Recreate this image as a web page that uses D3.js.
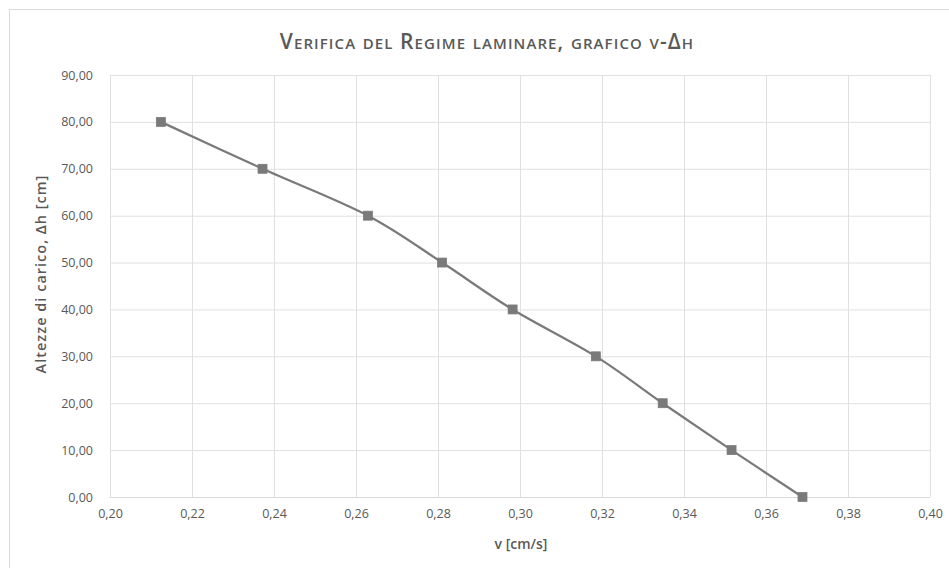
<!DOCTYPE html>
<html>
<head>
<meta charset="utf-8">
<script src="https://cdn.jsdelivr.net/npm/d3@7"></script>
<style>
  html, body { margin: 0; padding: 0; background: #fff; }
  svg text { font-family: "Open Sans", "DejaVu Sans", sans-serif; }
</style>
</head>
<body>
<svg id="chart" width="949" height="568"></svg>
<script>
// Velocità misurate [cm/s] e relative altezze di carico [cm]
const velocity = [0.2124, 0.2372, 0.2629, 0.2810, 0.2982, 0.3185, 0.3348, 0.3516, 0.3689];
const head = [80, 70, 60, 50, 40, 30, 20, 10, 0];
const xTicks = [0.20, 0.22, 0.24, 0.26, 0.28, 0.30, 0.32, 0.34, 0.36, 0.38, 0.40];
const yTicks = [0, 10, 20, 30, 40, 50, 60, 70, 80, 90];
const titleText = "Verifica del Regime laminare, grafico v-Δh";
const xTitle = "v [cm/s]";
const yTitle = "Altezze di carico, Δh [cm]";

const svg = d3.select("#chart");
const W = 949, H = 568;
const plot = { left: 110, right: 930, top: 75, bottom: 497 };

// chart frame (only top/left edges fall inside the view)
svg.append("rect")
  .attr("x", 9.5).attr("y", 9.5)
  .attr("width", W + 20).attr("height", H + 20)
  .attr("fill", "#fff").attr("stroke", "#d9d9d9").attr("stroke-width", 1);

const x = d3.scaleLinear().domain([0.20, 0.40]).range([plot.left, plot.right]);
const y = d3.scaleLinear().domain([0, 90]).range([plot.bottom, plot.top]);

const fmt = d => d3.format(".2f")(d).replace(".", ",");

// vertical grid + x labels
const xAxis = d3.axisBottom(x).tickValues(xTicks).tickSize(-(plot.bottom - plot.top)).tickFormat(fmt).tickPadding(12);
const gx = svg.append("g").attr("transform", `translate(0,${plot.bottom})`).call(xAxis);
gx.select(".domain").remove();
gx.selectAll(".tick line").attr("stroke", "#e0e0e0").attr("stroke-width", 1);
gx.selectAll(".tick text").attr("fill", "#595959").attr("font-size", 12.5);

// horizontal grid + y labels
const yAxis = d3.axisLeft(y).tickValues(yTicks).tickSize(-(plot.right - plot.left)).tickFormat(fmt).tickPadding(17);
const gy = svg.append("g").attr("transform", `translate(${plot.left},0)`).call(yAxis);
gy.select(".domain").remove();
gy.selectAll(".tick line").attr("stroke", "#e0e0e0").attr("stroke-width", 1);
gy.selectAll(".tick text").attr("fill", "#595959").attr("font-size", 12.5);

// bottom axis line
svg.append("line")
  .attr("x1", plot.left).attr("x2", plot.right)
  .attr("y1", plot.bottom + 0.5).attr("y2", plot.bottom + 0.5)
  .attr("stroke", "#d9d9d9");

const pts = velocity.map((v, i) => [v, head[i]]);

// smoothed series line
const line = d3.line().x(d => x(d[0])).y(d => y(d[1])).curve(d3.curveCardinal.tension(0));
svg.append("path")
  .datum(pts)
  .attr("d", line)
  .attr("fill", "none")
  .attr("stroke", "#7a7a7a")
  .attr("stroke-width", 2.25);

// square markers
const ms = 9;
svg.append("g").selectAll("rect").data(pts).join("rect")
  .attr("x", d => x(d[0]) - ms / 2)
  .attr("y", d => y(d[1]) - ms / 2)
  .attr("width", ms).attr("height", ms)
  .attr("fill", "#7a7a7a")
  .attr("stroke", "#7a7a7a").attr("stroke-width", 0.75);

// title
svg.append("text")
  .attr("x", 487).attr("y", 49)
  .attr("text-anchor", "middle")
  .attr("fill", "#595959")
  .attr("font-size", 21)
  .attr("font-weight", 600)
  .attr("letter-spacing", 1.1)
  .style("font-variant", "small-caps")
  .text(titleText);

// axis titles
svg.append("text")
  .attr("x", 521).attr("y", 549)
  .attr("text-anchor", "middle")
  .attr("fill", "#595959").attr("font-size", 14).attr("font-weight", 600)
  .text(xTitle);

svg.append("text")
  .attr("transform", `translate(46,274) rotate(-90)`)
  .attr("text-anchor", "middle")
  .attr("fill", "#595959").attr("font-size", 14.5).attr("font-weight", 600)
  .attr("letter-spacing", 1)
  .text(yTitle);
</script>
</body>
</html>
